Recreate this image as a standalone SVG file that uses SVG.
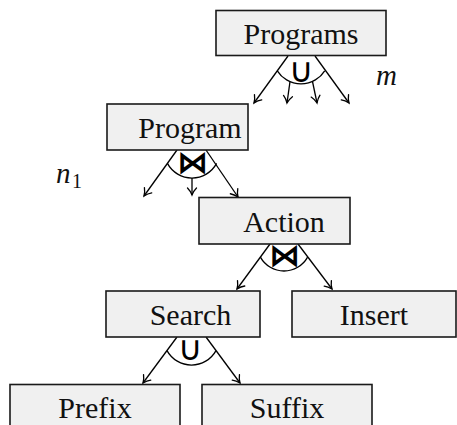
<svg xmlns="http://www.w3.org/2000/svg" width="457" height="425" viewBox="0 0 457 425">
<defs>
<marker id="arr" markerUnits="userSpaceOnUse" markerWidth="14" markerHeight="14" viewBox="-8 -7 10 14" refX="0" refY="0" orient="auto">
<path d="M-7,-4.5 C-5,-2.5 -2,-0.8 0,0 C-2,0.8 -5,2.5 -7,4.5" fill="none" stroke="#000" stroke-width="1.3" stroke-linecap="round"/>
</marker>
</defs>
<style>
.box{fill:#f0f0f0;stroke:#1a1a1a;stroke-width:1.6}
.lbl{font-family:"Liberation Serif","Times New Roman",Tinos,"Nimbus Roman","Noto Serif","DejaVu Serif",FreeSerif,Times,serif;font-size:30px;fill:#111;text-anchor:middle}
.op{font-family:"DejaVu Sans",sans-serif;text-anchor:middle;fill:#000}
.edge{stroke:#000;stroke-width:1.3;fill:none;marker-end:url(#arr)}
.arc{stroke:#000;stroke-width:1.3;fill:none}
.math{font-family:"Liberation Serif","Times New Roman",Tinos,"Nimbus Roman","Noto Serif","DejaVu Serif",FreeSerif,Times,serif;font-style:italic;font-size:29px;fill:#111}
.sub{font-family:"Liberation Serif","Times New Roman",Tinos,"Nimbus Roman","Noto Serif","DejaVu Serif",FreeSerif,Times,serif;font-size:20px;fill:#111}
</style>
<g id="connectors">
<path class="edge" d="M288,56 L254,103"/>
<path class="edge" d="M315,56 L349,103"/>
<path class="edge" d="M290,81.7 L287,103"/>
<path class="edge" d="M312.5,81.5 L317,103"/>
<path class="arc" d="M277.3,70.8 A28,28 0 0 0 324.7,70.8"/>
<path class="edge" d="M177,150 L144,196"/>
<path class="edge" d="M206,150 L238,197"/>
<path class="edge" d="M192,178 L192,195"/>
<path class="arc" d="M167.4,163.4 A28,28 0 0 0 216.6,163.4"/>
<path class="edge" d="M270,244 L237,289"/>
<path class="edge" d="M298,244 L332,289"/>
<path class="arc" d="M260.4,257.1 A27,27 0 0 0 307.6,257.1"/>
<path class="edge" d="M177,337 L143,383"/>
<path class="edge" d="M206,337 L240,383"/>
<path class="arc" d="M167,350.6 A28,28 0 0 0 216,350.6"/>
<text class="op" x="301.5" y="82" font-size="34">∪</text>
<text class="op" x="192.5" y="173" font-size="31" font-weight="bold">⋈</text>
<text class="op" x="284.5" y="266" font-size="31" font-weight="bold">⋈</text>
<text class="op" x="190.5" y="360" font-size="34">∪</text>
</g>
<g id="node-programs">
<rect class="box" x="216" y="10.5" width="170" height="45"/>
<text class="lbl" x="301" y="44">Programs</text>
</g>
<g id="node-program">
<rect class="box" x="107" y="104" width="141" height="46"/>
<text class="lbl" x="190" y="138">Program</text>
</g>
<g id="node-action">
<rect class="box" x="199" y="197.5" width="151" height="46.5"/>
<text class="lbl" x="284" y="232">Action</text>
</g>
<g id="node-search">
<rect class="box" x="106" y="291" width="154" height="46"/>
<text class="lbl" x="190.5" y="325">Search</text>
</g>
<g id="node-insert">
<rect class="box" x="292" y="291" width="164" height="46"/>
<text class="lbl" x="374" y="325">Insert</text>
</g>
<g id="node-prefix">
<rect class="box" x="10" y="384.5" width="170" height="50"/>
<text class="lbl" x="95" y="418">Prefix</text>
</g>
<g id="node-suffix">
<rect class="box" x="202" y="384.5" width="170" height="50"/>
<text class="lbl" x="287" y="418">Suffix</text>
</g>
<g id="labels">
<text class="math" x="376" y="85">m</text>
<text class="math" x="56" y="183">n</text>
<text class="sub" x="72" y="188">1</text>
</g>
</svg>
